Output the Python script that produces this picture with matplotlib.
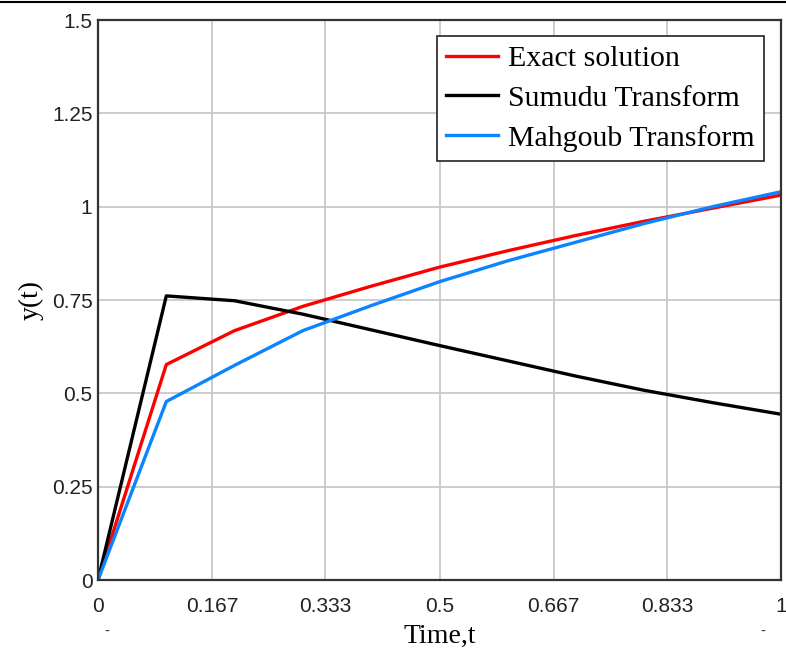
import matplotlib
matplotlib.use("Agg")
import matplotlib.pyplot as plt
from matplotlib.lines import Line2D

# sample times and the three solutions
t = [0.0, 0.1, 0.2, 0.3, 0.4, 0.5, 0.6, 0.7, 0.8, 0.9, 1.0]
exact = [0.0, 0.577, 0.668, 0.733, 0.787, 0.838, 0.882, 0.923, 0.961, 0.996, 1.031]
sumudu = [0.0, 0.761, 0.748, 0.712, 0.670, 0.628, 0.587, 0.546, 0.508, 0.475, 0.444]
mahgoub = [0.0, 0.478, 0.575, 0.668, 0.735, 0.799, 0.855, 0.905, 0.955, 1.0, 1.040]

xticks = [0, 0.167, 0.333, 0.5, 0.667, 0.833, 1]
xtick_labels = ["0", "0.167", "0.333", "0.5", "0.667", "0.833", "1"]
yticks = [0, 0.25, 0.5, 0.75, 1, 1.25, 1.5]
ytick_labels = ["0", "0.25", "0.5", "0.75", "1", "1.25", "1.5"]

fig = plt.figure(figsize=(7.86, 6.5), dpi=100)
ax = fig.add_axes([98 / 786, 70 / 650, 683 / 786, 560 / 650])

ax.plot(t, exact, color="#ff0000", lw=2.4, label="Exact solution")
ax.plot(t, sumudu, color="#000000", lw=2.4, label="Sumudu Transform")
ax.plot(t, mahgoub, color="#0a84ff", lw=2.4, label="Mahgoub Transform")

ax.set_xlim(0, 1)
ax.set_ylim(0, 1.5)
ax.set_xticks(xticks)
ax.set_xticklabels(xtick_labels)
ax.set_yticks(yticks)
ax.set_yticklabels(ytick_labels)
ax.tick_params(axis="both", length=0, labelsize=15)
ax.tick_params(axis="x", pad=12)
ax.tick_params(axis="y", pad=4)
for lab in ax.get_xticklabels() + ax.get_yticklabels():
    lab.set_family("Liberation Sans")
    lab.set_color("#222222")

ax.grid(True, color="#c8c8c8", lw=1.3)
ax.set_axisbelow(True)
for s in ax.spines.values():
    s.set_color("#333333")
    s.set_linewidth(1.6)

ax.set_xlabel("Time,t", family="Liberation Serif", fontsize=20, labelpad=6)
ax.set_ylabel("y(t)", family="Liberation Serif", fontsize=20, labelpad=6)

leg = ax.legend(loc="upper right", bbox_to_anchor=(0.975, 0.971), borderaxespad=0,
                prop={"family": "Liberation Serif", "size": 21.5},
                handlelength=1.75, handletextpad=0.35, labelspacing=0.43,
                borderpad=0.3, fancybox=False, framealpha=1)
leg.get_frame().set_edgecolor("#222222")
leg.get_frame().set_linewidth(1.2)

# thin line along the top edge and the small dashes under the axis
fig.add_artist(Line2D([0, 1], [0.997, 0.997], color="black", lw=1.5))
fig.text(107 / 786, 1 - 632 / 650, "-", fontsize=10, ha="center", va="center", color="#333333")
fig.text(763 / 786, 1 - 632 / 650, "-", fontsize=10, ha="center", va="center", color="#333333")

fig.savefig("out.png", dpi=100)
